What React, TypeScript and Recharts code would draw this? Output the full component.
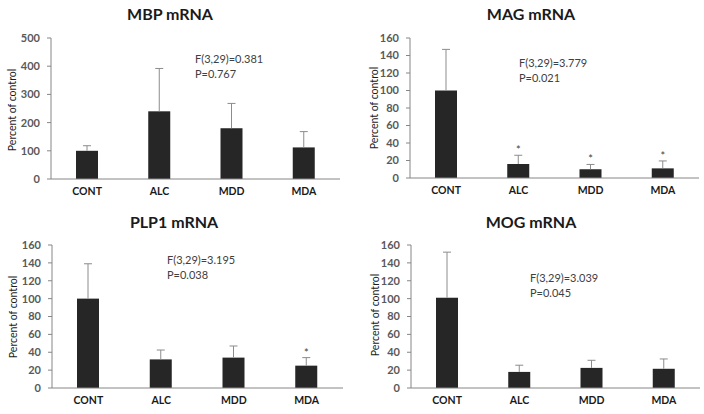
import React from "react";
import { BarChart, Bar, XAxis, YAxis } from "recharts";

const groups = ["CONT", "ALC", "MDD", "MDA"];

const mbpMean = [100, 240, 180, 112];
const mbpErr = [18, 152, 88, 56];
const mbpStar = [false, false, false, false];

const magMean = [100, 16, 10, 11];
const magErr = [47, 10, 5.5, 8.5];
const magStar = [false, true, true, true];

const plpMean = [100, 32, 34, 25];
const plpErr = [39, 10.5, 13, 9];
const plpStar = [false, false, false, true];

const mogMean = [101, 18, 22.5, 21.5];
const mogErr = [51, 7.5, 8.5, 11];
const mogStar = [false, false, false, false];

const ticks500 = [0, 100, 200, 300, 400, 500];
const ticks160 = [0, 20, 40, 60, 80, 100, 120, 140, 160];

const FONT = "Lato, 'Open Sans', sans-serif";
const AXIS_GRAY = "#868686";

function buildRows(mean: number[], err: number[], star: boolean[]) {
  return groups.map((g, i) => ({ group: g, mean: mean[i], err: err[i], star: star[i] }));
}

function BarWithError(props: any) {
  const { x, y, width, height, payload } = props;
  const bottom = y + height;
  const perUnit = payload.mean ? height / payload.mean : 0;
  const topY = bottom - (payload.mean + payload.err) * perUnit;
  const cx = x + width / 2;
  return (
    <g>
      <rect x={x} y={y} width={width} height={height} fill="#262626" />
      <line x1={cx} x2={cx} y1={y} y2={topY} stroke="#8c8c8c" strokeWidth={1} />
      <line x1={cx - 4} x2={cx + 4} y1={topY} y2={topY} stroke="#8c8c8c" strokeWidth={1} />
      {payload.star && (
        <text x={cx} y={topY - 1} textAnchor="middle" fontSize={11} fill="#404040" fontFamily={FONT}>
          *
        </text>
      )}
    </g>
  );
}

interface PanelProps {
  left: number;
  top: number;
  title: string;
  titleX: number;
  titleY: number;
  rows: { group: string; mean: number; err: number; star: boolean }[];
  domainMax: number;
  ticks: number[];
  plotLeft: number;
  plotTop: number;
  plotBottom: number;
  plotRight: number;
  labelX: number;
  labelY: number;
  statF: string;
  statP: string;
  statX: number;
  statY: number;
}

function Panel(p: PanelProps) {
  return (
    <div style={{ position: "absolute", left: p.left, top: p.top, width: 352, height: 207 }}>
      <BarChart
        width={352}
        height={207}
        data={p.rows}
        margin={{ top: p.plotTop, right: p.plotRight, bottom: 0, left: 0 }}
        barCategoryGap={0}
      >
        <XAxis
          dataKey="group"
          axisLine={{ stroke: AXIS_GRAY }}
          tickLine={false}
          tickSize={0}
          tickMargin={9}
          height={p.plotBottom}
          tick={{ fill: "#1a1a1a", fontSize: 10.5, fontWeight: 700, fontFamily: FONT }}
          interval={0}
        />
        <YAxis
          width={p.plotLeft}
          domain={[0, p.domainMax]}
          ticks={p.ticks}
          axisLine={{ stroke: AXIS_GRAY }}
          tickLine={{ stroke: AXIS_GRAY }}
          tickSize={4}
          tickMargin={7}
          tick={{ fill: "#595959", fontSize: 11, fontWeight: 700, fontFamily: FONT }}
          interval={0}
        />
        <Bar dataKey="mean" barSize={22} shape={<BarWithError />} isAnimationActive={false} />
      </BarChart>
      <div
        style={{
          position: "absolute",
          left: p.titleX - 100,
          width: 200,
          top: p.titleY - 10,
          textAlign: "center",
          fontFamily: FONT,
          fontWeight: 700,
          fontSize: 16,
          lineHeight: "20px",
          color: "#1a1a1a",
        }}
      >
        {p.title}
      </div>
      <div
        style={{
          position: "absolute",
          left: p.labelX - 60,
          top: p.labelY - 7,
          width: 120,
          textAlign: "center",
          transform: "rotate(-90deg)",
          fontFamily: FONT,
          fontSize: 10.5,
          lineHeight: "14px",
          color: "#1a1a1a",
          whiteSpace: "nowrap",
        }}
      >
        Percent of control
      </div>
      <div
        style={{
          position: "absolute",
          left: p.statX,
          top: p.statY - 7,
          fontFamily: FONT,
          fontSize: 11,
          lineHeight: "15px",
          color: "#404040",
          whiteSpace: "nowrap",
        }}
      >
        <div>{p.statF}</div>
        <div>{p.statP}</div>
      </div>
    </div>
  );
}

export default function App() {
  return (
    <div style={{ position: "absolute", left: 0, top: 0, width: 704, height: 414, background: "#fff" }}>
      <Panel
        left={0}
        top={0}
        title="MBP mRNA"
        titleX={170}
        titleY={14}
        rows={buildRows(mbpMean, mbpErr, mbpStar)}
        domainMax={500}
        ticks={ticks500}
        plotLeft={51}
        plotTop={38}
        plotBottom={28}
        plotRight={12}
        labelX={12}
        labelY={110}
        statF="F(3,29)=0.381"
        statP="P=0.767"
        statX={195}
        statY={58}
      />
      <Panel
        left={352}
        top={0}
        title="MAG mRNA"
        titleX={179}
        titleY={14}
        rows={buildRows(magMean, magErr, magStar)}
        domainMax={160}
        ticks={ticks160}
        plotLeft={58}
        plotTop={38}
        plotBottom={29}
        plotRight={5}
        labelX={22}
        labelY={108}
        statF="F(3,29)=3.779"
        statP="P=0.021"
        statX={167}
        statY={62}
      />
      <Panel
        left={0}
        top={207}
        title="PLP1 mRNA"
        titleX={174}
        titleY={15}
        rows={buildRows(plpMean, plpErr, plpStar)}
        domainMax={160}
        ticks={ticks160}
        plotLeft={52}
        plotTop={38}
        plotBottom={26}
        plotRight={9}
        labelX={13}
        labelY={110}
        statF="F(3,29)=3.195"
        statP="P=0.038"
        statX={167}
        statY={52}
      />
      <Panel
        left={352}
        top={207}
        title="MOG mRNA"
        titleX={179}
        titleY={15}
        rows={buildRows(mogMean, mogErr, mogStar)}
        domainMax={160}
        ticks={ticks160}
        plotLeft={59}
        plotTop={38}
        plotBottom={26}
        plotRight={4}
        labelX={23}
        labelY={108}
        statF="F(3,29)=3.039"
        statP="P=0.045"
        statX={178}
        statY={70}
      />
    </div>
  );
}
